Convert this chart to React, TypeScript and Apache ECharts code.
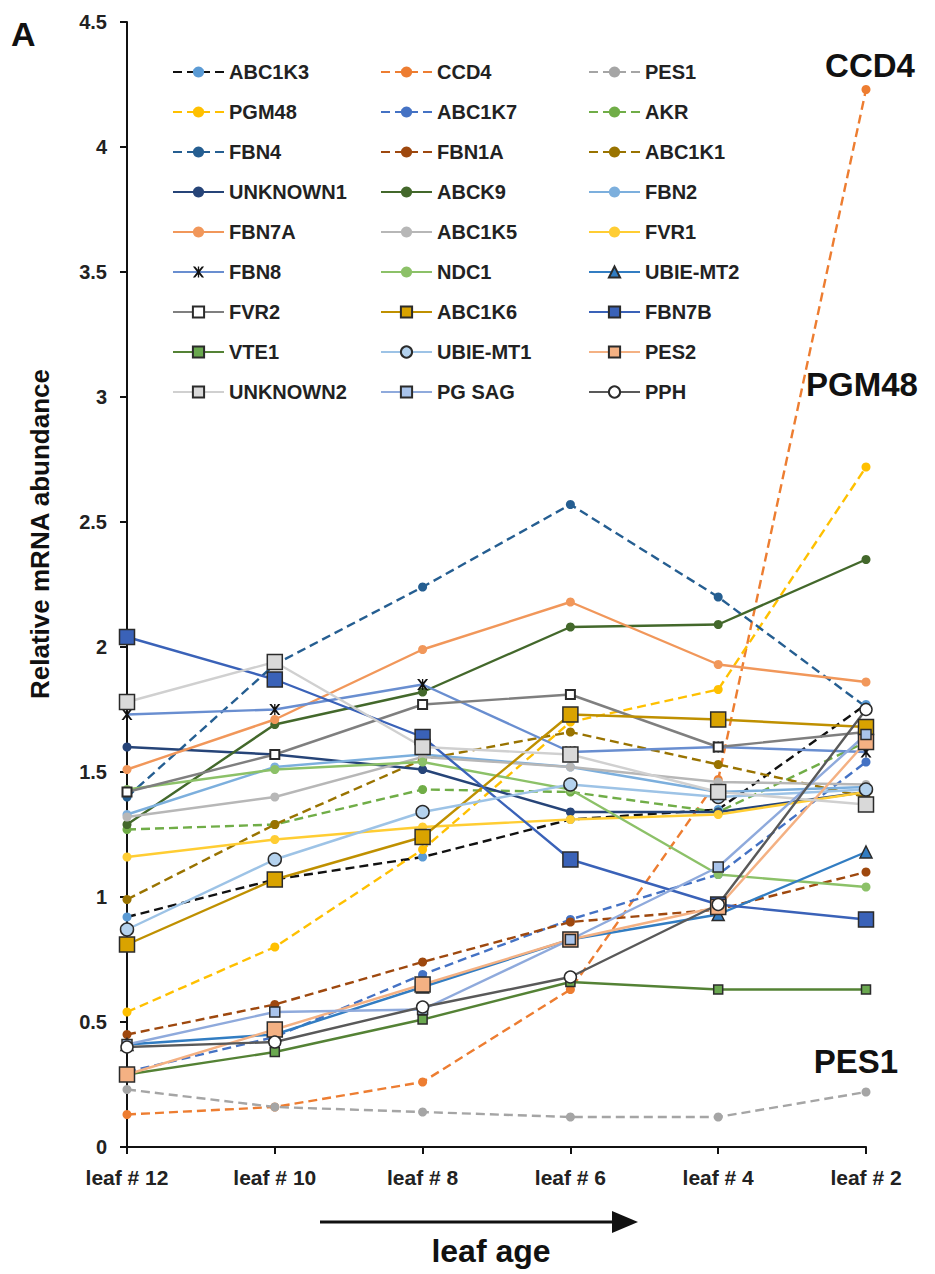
import React, { useEffect, useRef } from "react";
import * as echarts from "echarts";

const categories = ["leaf # 12", "leaf # 10", "leaf # 8", "leaf # 6", "leaf # 4", "leaf # 2"];

const ABC1K3 = [0.92, 1.07, 1.16, 1.31, 1.35, 1.77];
const CCD4 = [0.13, 0.16, 0.26, 0.63, 1.47, 4.23];
const PES1 = [0.23, 0.16, 0.14, 0.12, 0.12, 0.22];
const PGM48 = [0.54, 0.8, 1.19, 1.7, 1.83, 2.72];
const ABC1K7 = [0.3, 0.44, 0.69, 0.91, 1.09, 1.54];
const AKR = [1.27, 1.29, 1.43, 1.42, 1.34, 1.62];
const FBN4 = [1.4, 1.93, 2.24, 2.57, 2.2, 1.76];
const FBN1A = [0.45, 0.57, 0.74, 0.9, 0.95, 1.1];
const ABC1K1 = [0.99, 1.29, 1.55, 1.66, 1.53, 1.4];
const UNKNOWN1 = [1.6, 1.57, 1.51, 1.34, 1.34, 1.42];
const ABCK9 = [1.29, 1.69, 1.82, 2.08, 2.09, 2.35];
const FBN2 = [1.33, 1.52, 1.57, 1.52, 1.42, 1.44];
const FBN7A = [1.51, 1.71, 1.99, 2.18, 1.93, 1.86];
const ABC1K5 = [1.32, 1.4, 1.56, 1.52, 1.46, 1.45];
const FVR1 = [1.16, 1.23, 1.28, 1.31, 1.33, 1.42];
const FBN8 = [1.73, 1.75, 1.85, 1.58, 1.6, 1.58];
const NDC1 = [1.43, 1.51, 1.54, 1.43, 1.09, 1.04];
const UBIE_MT2 = [0.41, 0.45, 0.64, 0.83, 0.93, 1.18];
const FVR2 = [1.42, 1.57, 1.77, 1.81, 1.6, 1.66];
const ABC1K6 = [0.81, 1.07, 1.24, 1.73, 1.71, 1.68];
const FBN7B = [2.04, 1.87, 1.64, 1.15, 0.97, 0.91];
const VTE1 = [0.29, 0.38, 0.51, 0.66, 0.63, 0.63];
const UBIE_MT1 = [0.87, 1.15, 1.34, 1.45, 1.4, 1.43];
const PES2 = [0.29, 0.47, 0.65, 0.83, 0.96, 1.62];
const UNKNOWN2 = [1.78, 1.94, 1.6, 1.57, 1.42, 1.37];
const PG_SAG = [0.41, 0.54, 0.55, 0.83, 1.12, 1.65];
const PPH = [0.4, 0.42, 0.56, 0.68, 0.97, 1.75];

const yTicks = [0, 0.5, 1, 1.5, 2, 2.5, 3, 3.5, 4, 4.5];

const STAR =
  "path://M0,0 L2,0 L5,3.6 L8,0 L10,0 L6.2,5 L10,10 L8,10 L5,6.4 L2,10 L0,10 L3.8,5 Z M4.4,0 L5.6,0 L5.6,10 L4.4,10 Z";

type Def = {
  name: string;
  data: number[];
  line: string;
  marker: string;
  dashed?: boolean;
  symbol?: string;
  size?: number;
  border?: string;
  borderWidth?: number;
};

const F = "Arial, 'Liberation Sans', Helvetica, sans-serif";
const EDGE = "#2b2b2b";

const defs: Def[] = [
  { name: "ABC1K3", data: ABC1K3, line: "#111111", marker: "#5B9BD5", dashed: true },
  { name: "CCD4", data: CCD4, line: "#ED7D31", marker: "#ED7D31", dashed: true },
  { name: "PES1", data: PES1, line: "#A5A5A5", marker: "#A5A5A5", dashed: true },
  { name: "PGM48", data: PGM48, line: "#FFC000", marker: "#FFC000", dashed: true },
  { name: "ABC1K7", data: ABC1K7, line: "#4472C4", marker: "#4472C4", dashed: true },
  { name: "AKR", data: AKR, line: "#70AD47", marker: "#70AD47", dashed: true },
  { name: "FBN4", data: FBN4, line: "#255E91", marker: "#255E91", dashed: true },
  { name: "FBN1A", data: FBN1A, line: "#9E480E", marker: "#9E480E", dashed: true },
  { name: "ABC1K1", data: ABC1K1, line: "#997300", marker: "#997300", dashed: true },
  { name: "UNKNOWN1", data: UNKNOWN1, line: "#264478", marker: "#264478" },
  { name: "ABCK9", data: ABCK9, line: "#43682B", marker: "#43682B" },
  { name: "FBN2", data: FBN2, line: "#7CAFDD", marker: "#7CAFDD" },
  { name: "FBN7A", data: FBN7A, line: "#F1975A", marker: "#F1975A" },
  { name: "ABC1K5", data: ABC1K5, line: "#B7B7B7", marker: "#B7B7B7" },
  { name: "FVR1", data: FVR1, line: "#FFCD33", marker: "#FFCD33" },
  { name: "FBN8", data: FBN8, line: "#698ED0", marker: "#111111", symbol: STAR, size: 11 },
  { name: "NDC1", data: NDC1, line: "#8CC168", marker: "#8CC168" },
  { name: "UBIE-MT2", data: UBIE_MT2, line: "#327DC2", marker: "#327DC2", symbol: "triangle", size: 12, border: EDGE, borderWidth: 1.5 },
  { name: "FVR2", data: FVR2, line: "#7F7F7F", marker: "#ffffff", symbol: "rect", size: 9, border: EDGE, borderWidth: 2 },
  { name: "ABC1K6", data: ABC1K6, line: "#BF9000", marker: "#D9A300", symbol: "rect", size: 15, border: EDGE, borderWidth: 1.5 },
  { name: "FBN7B", data: FBN7B, line: "#3A62B8", marker: "#3A62B8", symbol: "rect", size: 15, border: EDGE, borderWidth: 1.5 },
  { name: "VTE1", data: VTE1, line: "#548235", marker: "#6AA84F", symbol: "rect", size: 9, border: EDGE, borderWidth: 1.5 },
  { name: "UBIE-MT1", data: UBIE_MT1, line: "#9DC3E6", marker: "#B4D2EE", symbol: "circle", size: 13, border: EDGE, borderWidth: 1.5 },
  { name: "PES2", data: PES2, line: "#F4B183", marker: "#F4B183", symbol: "rect", size: 15, border: EDGE, borderWidth: 1.5 },
  { name: "UNKNOWN2", data: UNKNOWN2, line: "#D0D0D0", marker: "#D9D9D9", symbol: "rect", size: 15, border: EDGE, borderWidth: 1.5 },
  { name: "PG SAG", data: PG_SAG, line: "#8FAADC", marker: "#A9C4EB", symbol: "rect", size: 10, border: EDGE, borderWidth: 1.5 },
  { name: "PPH", data: PPH, line: "#595959", marker: "#ffffff", symbol: "circle", size: 12, border: EDGE, borderWidth: 1.5 },
];

export default function App() {
  const ref = useRef<HTMLDivElement>(null);
  useEffect(() => {
    if (!ref.current) return;
    const chart = echarts.init(ref.current, null, { renderer: "svg" });
    const cols: string[][] = [[], [], []];
    defs.forEach((d, i) => cols[i % 3].push(d.name));
    const legendLefts = [167, 375, 583];
    const option: any = {
      animation: false,
      backgroundColor: "#ffffff",
      grid: { left: 127, right: 69, top: 22, bottom: 127, containLabel: false },
      legend: cols.map((c, i) => ({
        data: c,
        orient: "vertical",
        left: legendLefts[i],
        top: 57,
        itemWidth: 51,
        itemHeight: 14,
        itemGap: 20,
        selectedMode: false,
        textStyle: { fontFamily: F, fontSize: 20, fontWeight: "bold", color: "#222222" },
      })),
      xAxis: {
        type: "category",
        data: categories,
        boundaryGap: false,
        axisLine: { lineStyle: { color: "#111111", width: 2 } },
        axisTick: { show: true, length: 7, lineStyle: { color: "#111111", width: 2 } },
        axisLabel: { fontFamily: F, fontSize: 21, fontWeight: "bold", color: "#222222", margin: 20 },
        splitLine: { show: false },
      },
      yAxis: {
        type: "value",
        min: 0,
        max: 4.5,
        interval: 0.5,
        axisLine: { show: true, lineStyle: { color: "#111111", width: 2 } },
        axisTick: { show: true, length: 7, lineStyle: { color: "#111111", width: 2 } },
        axisLabel: {
          fontFamily: F,
          fontSize: 20,
          fontWeight: "bold",
          color: "#222222",
          margin: 20,
          formatter: (v: number) => (yTicks.includes(v) ? String(v) : ""),
        },
        splitLine: { show: false },
      },
      series: defs.map((d) => ({
        name: d.name,
        type: "line",
        data: d.data,
        symbol: d.symbol || "circle",
        symbolSize: d.size || 9,
        showSymbol: true,
        lineStyle: { color: d.line, width: 2.4, type: d.dashed ? [9, 5] : "solid" },
        itemStyle: {
          color: d.marker,
          borderColor: d.border || d.marker,
          borderWidth: d.borderWidth != null ? d.borderWidth : 0,
        },
        emphasis: { disabled: true },
      })),
      graphic: [
        { type: "text", left: 11, top: 17, style: { text: "A", font: `bold 34px ${F}`, fill: "#111111" } },
        {
          type: "text",
          x: 40,
          y: 534,
          rotation: Math.PI / 2,
          style: { text: "Relative mRNA abundance", font: `bold 26px ${F}`, fill: "#111111", align: "center", verticalAlign: "middle" },
        },
        { type: "text", x: 870, y: 65, style: { text: "CCD4", font: `bold 33px ${F}`, fill: "#111111", align: "center", verticalAlign: "middle" } },
        { type: "text", x: 862, y: 384, style: { text: "PGM48", font: `bold 33px ${F}`, fill: "#111111", align: "center", verticalAlign: "middle" } },
        { type: "text", x: 856, y: 1061, style: { text: "PES1", font: `bold 33px ${F}`, fill: "#111111", align: "center", verticalAlign: "middle" } },
        { type: "line", shape: { x1: 320, y1: 1222, x2: 616, y2: 1222 }, style: { stroke: "#111111", lineWidth: 3 } },
        { type: "polygon", shape: { points: [[612, 1211], [638, 1222], [612, 1233]] }, style: { fill: "#111111" } },
        { type: "text", x: 491, y: 1251, style: { text: "leaf age", font: `bold 32px ${F}`, fill: "#111111", align: "center", verticalAlign: "middle" } },
      ],
    };
    chart.setOption(option);
    return () => chart.dispose();
  }, []);
  return <div ref={ref} style={{ position: "fixed", left: 0, top: 0, width: 935, height: 1274 }} />;
}
